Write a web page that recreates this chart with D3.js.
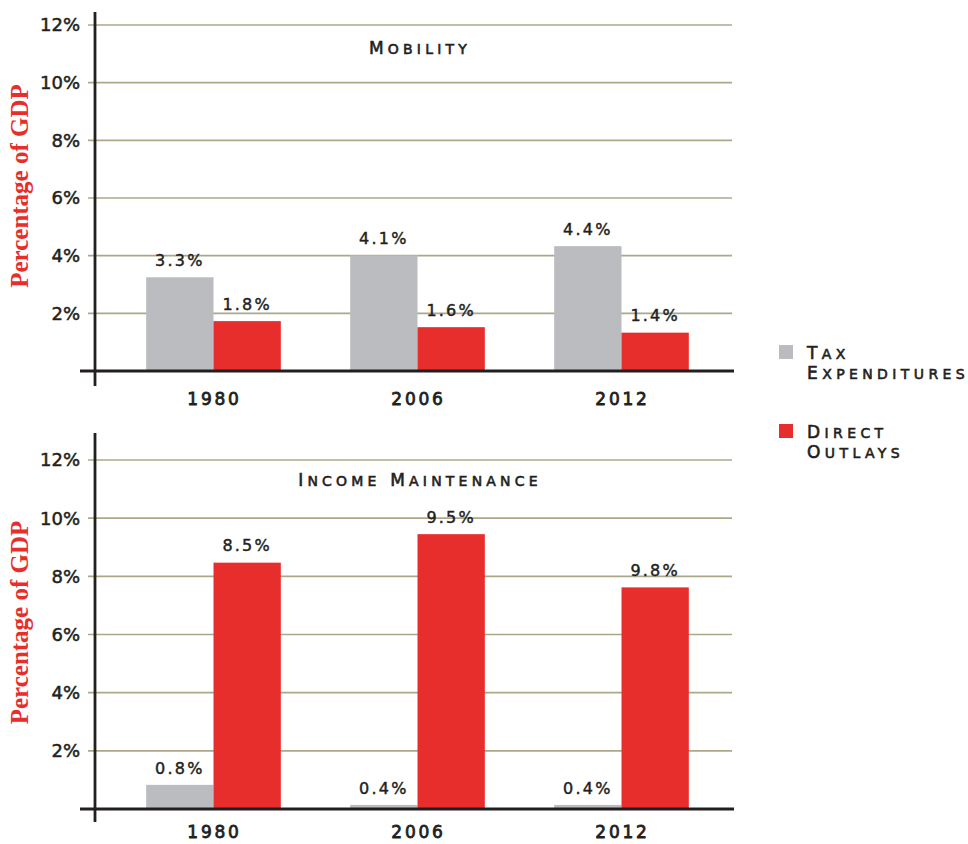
<!DOCTYPE html>
<html>
<head>
<meta charset="utf-8">
<script src="https://cdn.jsdelivr.net/npm/d3@7"></script>
<style>
  body { margin: 0; background: #fff; }
  svg { display: block; }
</style>
</head>
<body>
<div id="chart"></div>
<script>
const years = ["1980", "2006", "2012"];
const seriesNames = ["Tax Expenditures", "Direct Outlays"];
const yTicks = [2, 4, 6, 8, 10, 12];
const yTickLabels = ["2%", "4%", "6%", "8%", "10%", "12%"];

// bar heights as drawn, and the labels printed above them
const mobilityTax = [3.25, 4.01, 4.33];
const mobilityOutlays = [1.73, 1.52, 1.33];
const mobilityTaxLabels = ["3.3%", "4.1%", "4.4%"];
const mobilityOutlayLabels = ["1.8%", "1.6%", "1.4%"];

const incomeTax = [0.83, 0.14, 0.14];
const incomeOutlays = [8.47, 9.45, 7.62];
const incomeTaxLabels = ["0.8%", "0.4%", "0.4%"];
const incomeOutlayLabels = ["8.5%", "9.5%", "9.8%"];

const width = 968, height = 844;
const red = "#e82e2c", grey = "#bbbcbf", ink = "#231f20";
const sans = "'DejaVu Sans', sans-serif";

const svg = d3.select("#chart").append("svg")
  .attr("width", width).attr("height", height);

const x = d3.scaleBand().domain(years).range([111.5, 723.5])
  .paddingInner(0.34).paddingOuter(0.17);
const xSub = d3.scaleBand().domain(seriesNames).range([0, x.bandwidth()]);

// small caps by hand: first letter of each word bigger
function smallCaps(sel, str, big, small) {
  str.split(" ").forEach((word, i) => {
    sel.append("tspan").attr("font-size", big).text((i ? " " : "") + word[0].toUpperCase());
    sel.append("tspan").attr("font-size", small).text(word.slice(1).toUpperCase());
  });
}

// a bit of stroke to thicken the text like the print
function heavy(sel, w) {
  return sel.attr("stroke", ink).attr("stroke-width", w).attr("paint-order", "stroke");
}

function panel(title, titleY, y0, y12, axisTop, axisBottom, yearGap, taxVals, outVals, taxLabs, outLabs) {
  const y = d3.scaleLinear().domain([0, 12]).range([y0, y12]);
  const g = svg.append("g");

  g.selectAll(".grid").data(yTicks).join("line")
    .attr("x1", 88).attr("x2", 732)
    .attr("y1", d => y(d)).attr("y2", d => y(d))
    .attr("stroke", "#aba88a").attr("stroke-width", 1.6);

  heavy(g.selectAll(".tick").data(yTicks).join("text")
    .attr("x", 80).attr("y", d => y(d)).attr("dy", "0.36em")
    .attr("text-anchor", "end")
    .attr("font-family", sans).attr("font-size", 18).attr("fill", ink)
    .text((d, i) => yTickLabels[i]), 0.5);

  const rows = years.map((yr, i) => ({ year: yr, vals: [
    { s: seriesNames[0], v: taxVals[i], lab: taxLabs[i] },
    { s: seriesNames[1], v: outVals[i], lab: outLabs[i] }
  ]}));

  const grp = g.selectAll(".grp").data(rows).join("g")
    .attr("transform", d => `translate(${x(d.year)},0)`);

  grp.selectAll("rect").data(d => d.vals).join("rect")
    .attr("x", d => xSub(d.s)).attr("width", xSub.bandwidth())
    .attr("y", d => y(d.v)).attr("height", d => y(0) - y(d.v))
    .attr("fill", (d, i) => i ? red : grey);

  heavy(grp.selectAll("text").data(d => d.vals).join("text")
    .attr("x", d => xSub(d.s) + xSub.bandwidth() / 2)
    .attr("y", d => y(d.v) - 17).attr("dy", "0.36em")
    .attr("text-anchor", "middle")
    .attr("font-family", sans).attr("font-size", 16)
    .attr("letter-spacing", 2.2).attr("fill", ink)
    .text(d => d.lab), 0.45);

  heavy(g.selectAll(".year").data(years).join("text")
    .attr("x", d => x(d) + x.bandwidth() / 2 + 1)
    .attr("y", y0 + yearGap).attr("dy", "0.36em")
    .attr("text-anchor", "middle")
    .attr("font-family", sans).attr("font-size", 17)
    .attr("letter-spacing", 2.8).attr("fill", ink)
    .text(d => d), 0.8);

  // axes
  g.append("line").attr("x1", 80).attr("x2", 734).attr("y1", y0).attr("y2", y0)
    .attr("stroke", ink).attr("stroke-width", 2.8);
  g.append("line").attr("x1", 95).attr("x2", 95).attr("y1", axisTop).attr("y2", axisBottom)
    .attr("stroke", ink).attr("stroke-width", 2.8);

  const t = g.append("text").attr("x", 420).attr("y", titleY).attr("dy", "0.36em")
    .attr("text-anchor", "middle").attr("font-family", sans)
    .attr("letter-spacing", 4.2).attr("fill", ink);
  smallCaps(t, title, 17, 14);
  heavy(t, 0.6);

  g.append("text")
    .attr("transform", `translate(28,${(y0 + y12) / 2 - 12}) rotate(-90)`)
    .attr("text-anchor", "middle")
    .attr("font-family", "'Liberation Serif', serif").attr("font-weight", "bold")
    .attr("font-size", 25).attr("fill", red)
    .text("Percentage of GDP");
}

panel("Mobility", 48, 371, 25, 12, 386, 28,
  mobilityTax, mobilityOutlays, mobilityTaxLabels, mobilityOutlayLabels);
panel("Income Maintenance", 480, 809, 460, 433, 822, 23,
  incomeTax, incomeOutlays, incomeTaxLabels, incomeOutlayLabels);

// legend
const legend = svg.append("g").selectAll("g").data(seriesNames).join("g")
  .attr("transform", (d, i) => `translate(779,${345 + i * 79})`);
legend.append("rect").attr("width", 14).attr("height", 14)
  .attr("fill", (d, i) => i ? red : grey);
legend.each(function(d) {
  const words = d.split(" ");
  words.forEach((w, j) => {
    const t = d3.select(this).append("text")
      .attr("x", 28).attr("y", 8 + j * 20).attr("dy", "0.36em")
      .attr("font-family", sans).attr("letter-spacing", 4.4).attr("fill", ink);
    smallCaps(t, w, 17, 14);
    heavy(t, 0.6);
  });
});
</script>
</body>
</html>
